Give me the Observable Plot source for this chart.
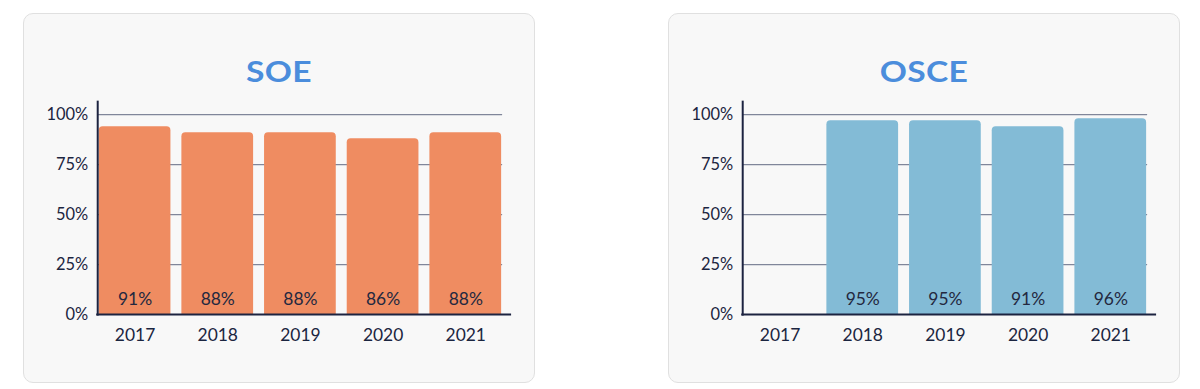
<!DOCTYPE html>
<html>
<head>
<meta charset="utf-8">
<script src="https://cdn.jsdelivr.net/npm/d3@7"></script>
<script src="https://cdn.jsdelivr.net/npm/@observablehq/plot@0.6"></script>
<style>
  html, body { margin: 0; padding: 0; background: #ffffff; }
  body { width: 1200px; height: 389px; position: relative; overflow: hidden; font-family: Lato, sans-serif; }
  .card { position: absolute; top: 13px; width: 512px; height: 370px; box-sizing: border-box;
          border: 1px solid #e0e0e0; border-radius: 10px; background: #f8f8f8; }
  .title { position: absolute; left: 0; width: 100%; top: 43px; text-align: center;
           font: 700 28px/1 Lato, sans-serif; letter-spacing: 0.3px; color: #4b8ddc;
           transform: scaleX(1.2); transform-origin: 50% 50%; }
  .card svg { position: absolute; left: -1px; top: -1px; }
</style>
</head>
<body>
<div class="card" id="soe" style="left:23px"><div class="title">SOE</div></div>
<div class="card" id="osce" style="left:668px"><div class="title">OSCE</div></div>
<script>
const years = ["2017", "2018", "2019", "2020", "2021"];
// bar heights as drawn (percent)
const soeValues = [94, 91, 91, 88, 91];
const osceValues = [null, 97, 97, 94, 98];
// value labels as printed inside the bars
const soeLabels = ["91%", "88%", "88%", "86%", "88%"];
const osceLabels = [null, "95%", "95%", "91%", "96%"];
const yTicks = [0, 25, 50, 75, 100];
const gridTicks = [25, 50, 75, 100];

function chart(values, labels, color) {
  const data = years.map((year, i) => ({year, value: values[i], label: labels[i]}));
  const bars = data.filter(d => d.value != null);
  return Plot.plot({
    width: 512,
    height: 370,
    marginLeft: 74.5,
    marginRight: 31,
    marginTop: 88.5,
    marginBottom: 67.7,
    style: {background: "transparent", fontFamily: "Lato, sans-serif", color: "#1b2540", overflow: "visible"},
    x: {domain: years, paddingInner: 0.13, paddingOuter: 0, label: null},
    y: {domain: [0, 106.5], label: null},
    marks: [
      Plot.ruleY(gridTicks, {stroke: "#80869a", strokeWidth: 1.2}),
      Plot.barY(bars, {x: "year", y: "value", fill: color, rx: 4, insetBottom: -6, clip: true}),
      Plot.text(bars, {x: "year", y: 0, text: "label", dy: -10, lineAnchor: "bottom", fontSize: 17.5, fill: "#232840"}),
      Plot.axisY({ticks: yTicks, tickSize: 0, tickPadding: 9.5, tickFormat: d => d + "%", fontSize: 16.5}),
      Plot.axisX({tickSize: 0, tickPadding: 14, fontSize: 17.5}),
      Plot.frame({anchor: "left", stroke: "#1c2340", strokeWidth: 2}),
      Plot.ruleY([0], {stroke: "#1c2340", strokeWidth: 2, insetLeft: -1, insetRight: -9})
    ]
  });
}

document.getElementById("soe").appendChild(chart(soeValues, soeLabels, "#ef8c61"));
document.getElementById("osce").appendChild(chart(osceValues, osceLabels, "#83bbd6"));
</script>
</body>
</html>
